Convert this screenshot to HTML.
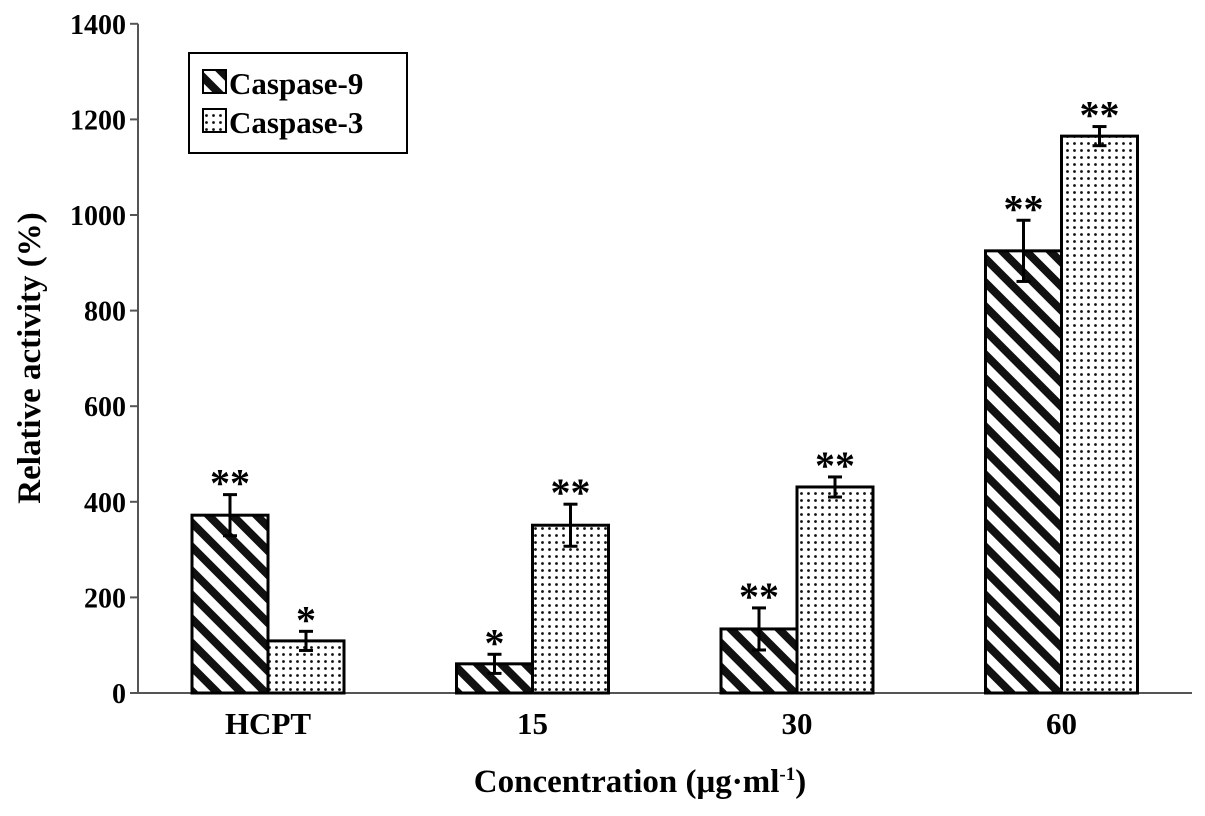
<!DOCTYPE html>
<html><head><meta charset="utf-8"><style>body{margin:0;background:#fff}svg{display:block;font-family:"Liberation Serif",serif;font-weight:bold}</style></head>
<body>
<svg id="chart" width="1205" height="816" viewBox="0 0 1205 816">
<defs>
<pattern id="hatch" patternUnits="userSpaceOnUse" width="17" height="17" patternTransform="rotate(-45)">
<rect width="17" height="17" fill="#fff"/><rect width="8" height="17" fill="#111"/></pattern>
<pattern id="dots" patternUnits="userSpaceOnUse" width="7" height="7">
<rect width="7" height="7" fill="#fff"/><circle cx="3.5" cy="3.5" r="1.4" fill="#111"/></pattern>
</defs>
<g id="axes"></g><g id="bars"></g>
<g>
<rect x="189" y="53" width="218" height="100" fill="#fff" stroke="#000" stroke-width="2"/>
<rect x="203" y="70" width="23" height="23" fill="url(#hatch)" stroke="#000" stroke-width="2"/>
<text x="229" y="94" font-size="31">Caspase-9</text>
<rect x="203" y="109" width="23" height="23" fill="url(#dots)" stroke="#000" stroke-width="2"/>
<text x="229" y="133" font-size="31">Caspase-3</text>
</g>
<text transform="translate(40,358) rotate(-90)" text-anchor="middle" font-size="33">Relative activity (%)</text>
<text x="640" y="792" text-anchor="middle" font-size="33">Concentration (μg·ml<tspan font-size="19" dy="-12">-1</tspan><tspan dy="12">)</tspan></text>
</svg>
<script>
const categories=["HCPT","15","30","60"];
const casp9=[372,61,134,925];
const casp9Err=[43,20,44,64];
const casp3=[109,351,431,1165];
const casp3Err=[20,44,21,20];
const casp9Sig=["**","*","**","**"];
const casp3Sig=["*","**","**","**"];
const yTicks=[0,200,400,600,800,1000,1200,1400];
const NS="http://www.w3.org/2000/svg";
const x0=138,y0=693,ppu=0.478,groupW=264.5,firstC=268,barW=76;
const y=v=>y0-v*ppu, xc=i=>firstC+i*groupW;
function mk(t,a,p){const e=document.createElementNS(NS,t);for(const k in a)e.setAttribute(k,a[k]);p.appendChild(e);return e;}
const ax=document.getElementById('axes'),bg=document.getElementById('bars');
let l=mk('line',{x1:x0,y1:y(1400),x2:x0,y2:y0,stroke:'#555','stroke-width':2},ax);


l=mk('line',{x1:x0,y1:y0,x2:1192,y2:y0,stroke:'#555','stroke-width':2},ax);


yTicks.forEach(v=>{mk('line',{x1:x0-8,y1:y(v),x2:x0,y2:y(v),stroke:'#555','stroke-width':2},ax);
const t=mk('text',{x:x0-12,y:y(v)+10,'text-anchor':'end','font-size':28},ax);t.textContent=v;

});
categories.forEach((c,i)=>{
const t=mk('text',{x:xc(i),y:y0+41,'text-anchor':'middle','font-size':31},ax);t.textContent=c;


[[casp9,casp9Err,casp9Sig,'url(#hatch)',-1,'caspase9'],[casp3,casp3Err,casp3Sig,'url(#dots)',0,'caspase3']].forEach(([d,e,s,f,o,n])=>{
const bx=xc(i)+o*barW;
const r=mk('rect',{x:bx,y:y(d[i]),width:barW,height:y0-y(d[i]),fill:f,stroke:'#000','stroke-width':3},bg);


const cx=bx+barW/2;
const g=mk('g',{stroke:'#000','stroke-width':3},bg);


mk('line',{x1:cx,y1:y(d[i]+e[i]),x2:cx,y2:y(d[i]-e[i])},g);
mk('line',{x1:cx-7,y1:y(d[i]+e[i]),x2:cx+7,y2:y(d[i]+e[i])},g);
mk('line',{x1:cx-7,y1:y(d[i]-e[i]),x2:cx+7,y2:y(d[i]-e[i])},g);
const st=mk('text',{x:cx,y:y(d[i]+e[i])+2,'text-anchor':'middle','font-size':40},bg);st.textContent=s[i];


});});
</script>
</body></html>
